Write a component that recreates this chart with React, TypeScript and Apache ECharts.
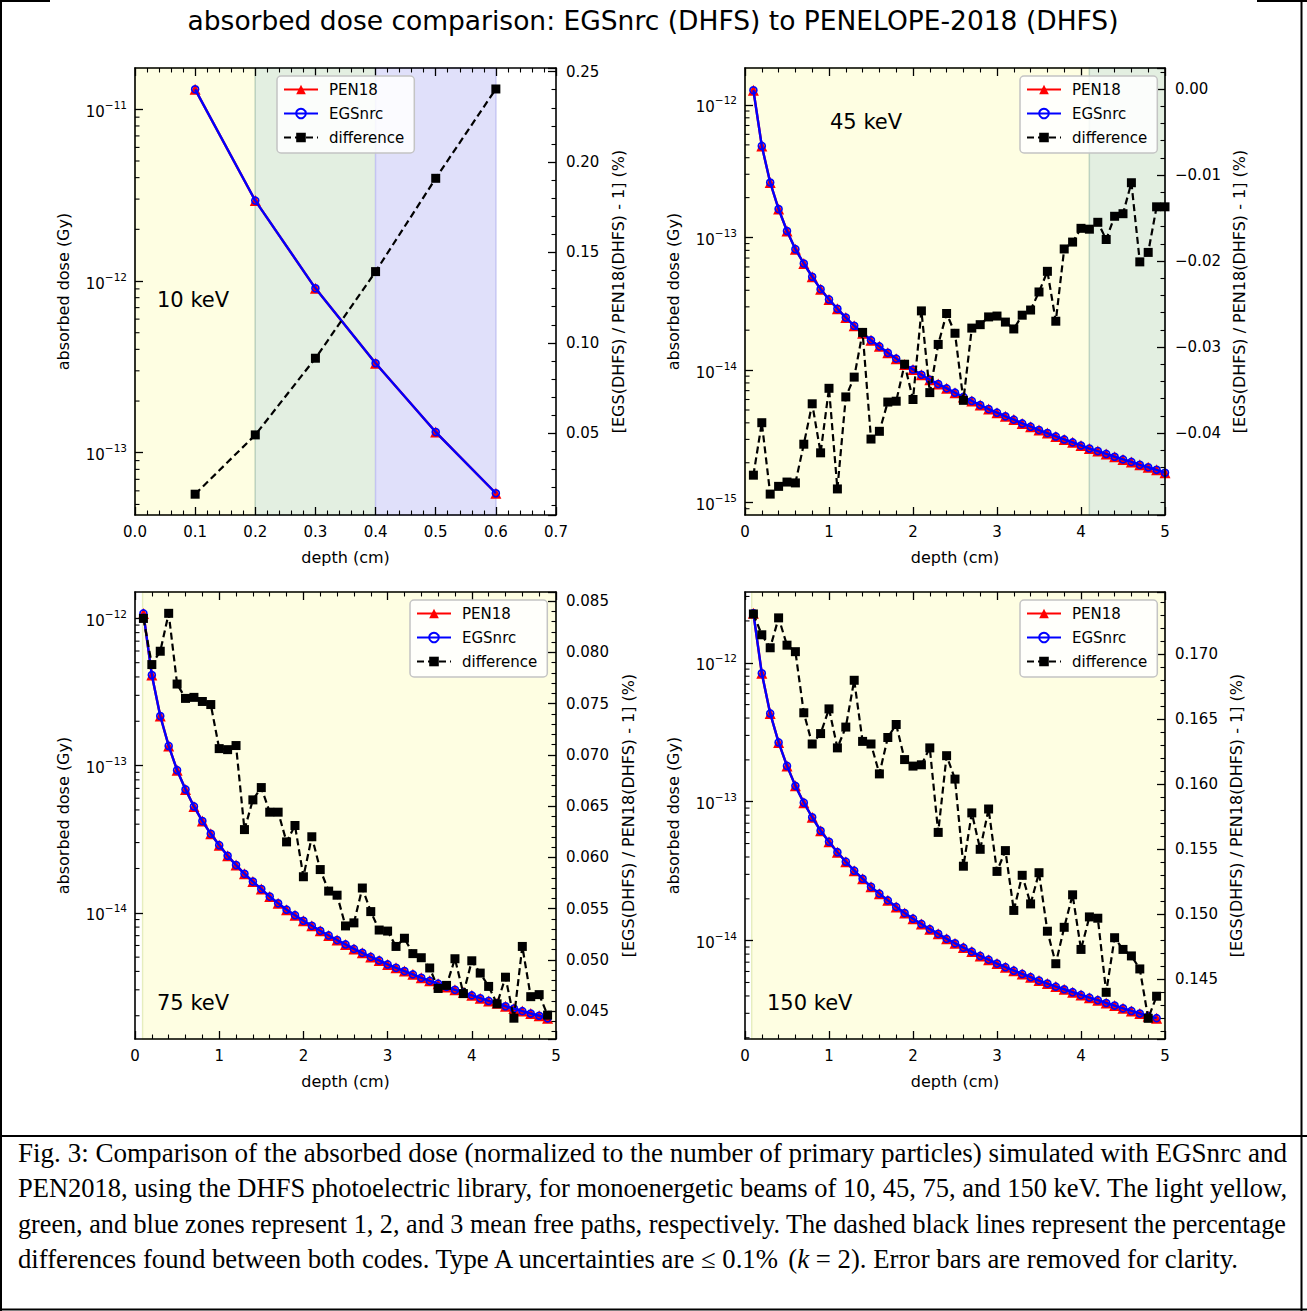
import React, { useEffect, useRef } from 'react';
import * as echarts from 'echarts';

// ---------------- data ----------------
const seriesNames = ['PEN18', 'EGSnrc', 'difference'];
const energyLabels = ['10 keV', '45 keV', '75 keV', '150 keV'];

const depth10 = [0.1, 0.2, 0.3, 0.4, 0.5, 0.6];
const pen10 = [1.307e-11, 2.94e-12, 9.07e-13, 3.32e-13, 1.32e-13, 5.81e-14];
const egs10 = [1.307e-11, 2.94e-12, 9.07e-13, 3.32e-13, 1.32e-13, 5.81e-14];
const diff10 = [0.0163, 0.0491, 0.0915, 0.1394, 0.191, 0.2404];

const depth45 = [0.1, 0.2, 0.3, 0.4, 0.5, 0.6, 0.7, 0.8, 0.9, 1.0, 1.1, 1.2, 1.3, 1.4, 1.5, 1.6, 1.7, 1.8, 1.9, 2.0,
  2.1, 2.2, 2.3, 2.4, 2.5, 2.6, 2.7, 2.8, 2.9, 3.0, 3.1, 3.2, 3.3, 3.4, 3.5, 3.6, 3.7, 3.8, 3.9, 4.0,
  4.1, 4.2, 4.3, 4.4, 4.5, 4.6, 4.7, 4.8, 4.9, 5.0];
const pen45 = [1.29e-12, 4.91e-13, 2.6e-13, 1.64e-13, 1.12e-13, 8.17e-14, 6.37e-14, 5.06e-14, 4.08e-14, 3.41e-14,
  2.9e-14, 2.49e-14, 2.16e-14, 1.9e-14, 1.68e-14, 1.51e-14, 1.35e-14, 1.22e-14, 1.1e-14, 1.01e-14,
  9.22e-15, 8.45e-15, 7.85e-15, 7.28e-15, 6.75e-15, 6.27e-15, 5.85e-15, 5.45e-15, 5.08e-15, 4.77e-15,
  4.48e-15, 4.23e-15, 3.96e-15, 3.74e-15, 3.53e-15, 3.35e-15, 3.16e-15, 3.0e-15, 2.85e-15, 2.7e-15,
  2.56e-15, 2.45e-15, 2.33e-15, 2.22e-15, 2.12e-15, 2.03e-15, 1.93e-15, 1.85e-15, 1.77e-15, 1.68e-15];
const egs45 = [1.29e-12, 4.91e-13, 2.6e-13, 1.64e-13, 1.12e-13, 8.17e-14, 6.37e-14, 5.06e-14, 4.08e-14, 3.41e-14,
  2.9e-14, 2.49e-14, 2.16e-14, 1.9e-14, 1.68e-14, 1.51e-14, 1.35e-14, 1.22e-14, 1.1e-14, 1.01e-14,
  9.22e-15, 8.45e-15, 7.85e-15, 7.28e-15, 6.75e-15, 6.27e-15, 5.85e-15, 5.45e-15, 5.08e-15, 4.77e-15,
  4.48e-15, 4.23e-15, 3.96e-15, 3.74e-15, 3.53e-15, 3.35e-15, 3.16e-15, 3.0e-15, 2.85e-15, 2.7e-15,
  2.56e-15, 2.45e-15, 2.33e-15, 2.22e-15, 2.12e-15, 2.03e-15, 1.93e-15, 1.85e-15, 1.77e-15, 1.68e-15];
const diff45 = [-0.0449, -0.0388, -0.0471, -0.0462, -0.0457, -0.0458, -0.0413, -0.0366, -0.0423, -0.0348,
  -0.0465, -0.0358, -0.0335, -0.0283, -0.0407, -0.0398, -0.0364, -0.0363, -0.032, -0.0361,
  -0.0258, -0.0353, -0.0297, -0.0261, -0.0284, -0.0362, -0.0278, -0.0274, -0.0265, -0.0264,
  -0.0271, -0.0279, -0.0263, -0.0257, -0.0236, -0.0212, -0.027, -0.0186, -0.0178, -0.0162,
  -0.0163, -0.0155, -0.0175, -0.0148, -0.0145, -0.0109, -0.0201, -0.019, -0.0137, -0.0137];

const depth75 = [0.1, 0.2, 0.3, 0.4, 0.5, 0.6, 0.7, 0.8, 0.9, 1.0, 1.1, 1.2, 1.3, 1.4, 1.5, 1.6, 1.7, 1.8, 1.9, 2.0,
  2.1, 2.2, 2.3, 2.4, 2.5, 2.6, 2.7, 2.8, 2.9, 3.0, 3.1, 3.2, 3.3, 3.4, 3.5, 3.6, 3.7, 3.8, 3.9, 4.0,
  4.1, 4.2, 4.3, 4.4, 4.5, 4.6, 4.7, 4.8, 4.9];
const pen75 = [1.08e-12, 4.12e-13, 2.17e-13, 1.36e-13, 9.31e-14, 6.89e-14, 5.28e-14, 4.2e-14, 3.44e-14, 2.88e-14,
  2.44e-14, 2.11e-14, 1.84e-14, 1.63e-14, 1.45e-14, 1.29e-14, 1.16e-14, 1.05e-14, 9.64e-15, 8.83e-15,
  8.16e-15, 7.55e-15, 7.02e-15, 6.53e-15, 6.1e-15, 5.69e-15, 5.35e-15, 5.02e-15, 4.75e-15, 4.46e-15,
  4.23e-15, 4.02e-15, 3.82e-15, 3.62e-15, 3.45e-15, 3.3e-15, 3.14e-15, 3.0e-15, 2.88e-15, 2.75e-15,
  2.63e-15, 2.52e-15, 2.43e-15, 2.32e-15, 2.24e-15, 2.15e-15, 2.07e-15, 2.0e-15, 1.92e-15];
const egs75 = [1.08e-12, 4.12e-13, 2.17e-13, 1.36e-13, 9.31e-14, 6.89e-14, 5.28e-14, 4.2e-14, 3.44e-14, 2.88e-14,
  2.44e-14, 2.11e-14, 1.84e-14, 1.63e-14, 1.45e-14, 1.29e-14, 1.16e-14, 1.05e-14, 9.64e-15, 8.83e-15,
  8.16e-15, 7.55e-15, 7.02e-15, 6.53e-15, 6.1e-15, 5.69e-15, 5.35e-15, 5.02e-15, 4.75e-15, 4.46e-15,
  4.23e-15, 4.02e-15, 3.82e-15, 3.62e-15, 3.45e-15, 3.3e-15, 3.14e-15, 3.0e-15, 2.88e-15, 2.75e-15,
  2.63e-15, 2.52e-15, 2.43e-15, 2.32e-15, 2.24e-15, 2.15e-15, 2.07e-15, 2.0e-15, 1.92e-15];
const diff75 = [0.0833, 0.0788, 0.0801, 0.0838, 0.0769, 0.0755, 0.0756, 0.0752, 0.0749, 0.0706,
  0.0705, 0.0709, 0.0627, 0.0656, 0.0668, 0.0644, 0.0644, 0.0615, 0.0631, 0.0581,
  0.062, 0.0588, 0.0567, 0.0563, 0.0533, 0.0536, 0.057, 0.0547, 0.0529, 0.0528,
  0.0513, 0.0521, 0.0506, 0.0502, 0.0492, 0.0472, 0.0475, 0.0501, 0.0467, 0.0499,
  0.0487, 0.0474, 0.0457, 0.0483, 0.0443, 0.0513, 0.0464, 0.0466, 0.0446];

const depth150 = [0.1, 0.2, 0.3, 0.4, 0.5, 0.6, 0.7, 0.8, 0.9, 1.0, 1.1, 1.2, 1.3, 1.4, 1.5, 1.6, 1.7, 1.8, 1.9, 2.0,
  2.1, 2.2, 2.3, 2.4, 2.5, 2.6, 2.7, 2.8, 2.9, 3.0, 3.1, 3.2, 3.3, 3.4, 3.5, 3.6, 3.7, 3.8, 3.9, 4.0,
  4.1, 4.2, 4.3, 4.4, 4.5, 4.6, 4.7, 4.8, 4.9];
const pen150 = [2.27e-12, 8.39e-13, 4.32e-13, 2.67e-13, 1.81e-13, 1.3e-13, 9.84e-14, 7.73e-14, 6.18e-14, 5.15e-14,
  4.33e-14, 3.7e-14, 3.19e-14, 2.79e-14, 2.44e-14, 2.18e-14, 1.95e-14, 1.75e-14, 1.58e-14, 1.44e-14,
  1.32e-14, 1.21e-14, 1.12e-14, 1.03e-14, 9.57e-15, 8.91e-15, 8.34e-15, 7.76e-15, 7.3e-15, 6.84e-15,
  6.44e-15, 6.08e-15, 5.76e-15, 5.46e-15, 5.16e-15, 4.91e-15, 4.67e-15, 4.47e-15, 4.26e-15, 4.07e-15,
  3.89e-15, 3.73e-15, 3.56e-15, 3.41e-15, 3.26e-15, 3.12e-15, 2.99e-15, 2.86e-15, 2.77e-15];
const egs150 = [2.27e-12, 8.39e-13, 4.32e-13, 2.67e-13, 1.81e-13, 1.3e-13, 9.84e-14, 7.73e-14, 6.18e-14, 5.15e-14,
  4.33e-14, 3.7e-14, 3.19e-14, 2.79e-14, 2.44e-14, 2.18e-14, 1.95e-14, 1.75e-14, 1.58e-14, 1.44e-14,
  1.32e-14, 1.21e-14, 1.12e-14, 1.03e-14, 9.57e-15, 8.91e-15, 8.34e-15, 7.76e-15, 7.3e-15, 6.84e-15,
  6.44e-15, 6.08e-15, 5.76e-15, 5.46e-15, 5.16e-15, 4.91e-15, 4.67e-15, 4.47e-15, 4.26e-15, 4.07e-15,
  3.89e-15, 3.73e-15, 3.56e-15, 3.41e-15, 3.26e-15, 3.12e-15, 2.99e-15, 2.86e-15, 2.77e-15];
const diff150 = [0.1731, 0.1715, 0.1705, 0.1728, 0.1707, 0.1702, 0.1655, 0.1631, 0.1639, 0.1658,
  0.1628, 0.1644, 0.168, 0.1633, 0.1631, 0.1608, 0.1636, 0.1646, 0.1619, 0.1614,
  0.1615, 0.1628, 0.1563, 0.1622, 0.1604, 0.1537, 0.1578, 0.155, 0.1581, 0.1533,
  0.1549, 0.1503, 0.153, 0.1508, 0.1532, 0.1487, 0.1462, 0.149, 0.1515, 0.1473,
  0.1498, 0.1497, 0.144, 0.1482, 0.1473, 0.1468, 0.1458, 0.142, 0.1437];

// mean-free-path zones [start, end] (index 0 = 1 mfp, 1 = 2 mfp, 2 = 3 mfp)
const zones10 = [[0, 0.2], [0.2, 0.4], [0.4, 0.6]];
const zones45 = [[0, 4.1], [4.1, 5]];
const zones75 = [[0.09, 5]];
const zones150 = [[0.08, 5]];

// axis extents
const xRange10 = [0, 0.7];
const xRangeDeep = [0, 5];
const doseRange10 = [4.34e-14, 1.74e-11];
const doseRange45 = [8.07e-16, 1.9e-12];
const doseRange75 = [1.39e-15, 1.51e-12];
const doseRange150 = [1.96e-15, 3.23e-12];
const diffRange10 = [0.0048, 0.252];
const diffRange45 = [-0.04953, 0.00244];
const diffRange75 = [0.04227, 0.08588];
const diffRange150 = [0.14041, 0.17479];

const titleText = 'absorbed dose comparison: EGSnrc (DHFS) to PENELOPE-2018 (DHFS)';
const xName = 'depth (cm)';
const yLeftName = 'absorbed dose (Gy)';
const yRightName = '[EGS(DHFS) / PEN18(DHFS) - 1] (%)';
const captionLines = [
  'Fig. 3: Comparison of the absorbed dose (normalized to the number of primary particles) simulated with EGSnrc and',
  'PEN2018, using the DHFS photoelectric library, for monoenergetic beams of 10, 45, 75, and 150 keV. The light yellow,',
  'green, and blue zones represent 1, 2, and 3 mean free paths, respectively. The dashed black lines represent the percentage',
  'differences found between both codes. Type A uncertainties are ≤ 0.1% {n|(}{i|k} = 2). Error bars are removed for clarity.',
];

// ---------------- layout / style ----------------
const FONT = 'DejaVu Sans';
const SERIF = 'Liberation Serif';
const zoneFill = ['#fefee2', '#e3efe1', '#e0e0fa'];
const zoneEdge = ['#e6eebf', '#bcd2c2', '#c4c4f2'];

const panels = [
  { depth: depth10, pen: pen10, egs: egs10, diff: diff10, zones: zones10, xr: xRange10, xInt: 0.1, xDec: 1,
    yl: doseRange10, yr: diffRange10, rInt: 0.05, rDec: 2,
    box: [135, 68, 421, 447], legend: [277, 76], label: [157, 300], lGap: 64, rGap: 54 },
  { depth: depth45, pen: pen45, egs: egs45, diff: diff45, zones: zones45, xr: xRangeDeep, xInt: 1, xDec: 0,
    yl: doseRange45, yr: diffRange45, rInt: 0.01, rDec: 2,
    box: [745, 68, 420, 447], legend: [1020, 76], label: [830, 122], lGap: 64, rGap: 66 },
  { depth: depth75, pen: pen75, egs: egs75, diff: diff75, zones: zones75, xr: xRangeDeep, xInt: 1, xDec: 0,
    yl: doseRange75, yr: diffRange75, rInt: 0.005, rDec: 3,
    box: [135, 592, 421, 447], legend: [410, 600], label: [157, 1003], lGap: 64, rGap: 64 },
  { depth: depth150, pen: pen150, egs: egs150, diff: diff150, zones: zones150, xr: xRangeDeep, xInt: 1, xDec: 0,
    yl: doseRange150, yr: diffRange150, rInt: 0.005, rDec: 3,
    box: [745, 592, 420, 447], legend: [1020, 600], label: [767, 1003], lGap: 64, rGap: 63 },
];

function logMinorTicks(min: number, max: number) {
  const out: number[] = [];
  for (let e = Math.floor(Math.log10(min)); e <= Math.ceil(Math.log10(max)); e++) {
    for (let m = 2; m <= 9; m++) {
      const v = m * Math.pow(10, e);
      if (v > min && v < max) out.push(v);
    }
  }
  return out;
}

function measure(text: string, font: string) {
  const ctx = document.createElement('canvas').getContext('2d')!;
  ctx.font = font;
  return ctx.measureText(text).width;
}

const fmtSigned = (v: number, d: number) => {
  const s = Math.abs(v).toFixed(d);
  return (v < 0 && Number(s) !== 0 ? '\u2212' : '') + s;
};

function buildOption() {
  const grid: any[] = [];
  const xAxis: any[] = [];
  const yAxis: any[] = [];
  const series: any[] = [];
  const legend: any[] = [];
  const graphic: any[] = [];

  const spine = { show: true, onZero: false, lineStyle: { color: '#000', width: 1.6 } };
  const majorTick = { show: true, inside: true, length: 8, lineStyle: { color: '#000', width: 1.3 } };
  const minorTick = { show: true, splitNumber: 5, length: 4.5, lineStyle: { color: '#000', width: 1.1 } };
  const nameStyle = { fontFamily: FONT, fontSize: 16, color: '#000' };

  panels.forEach((p, i) => {
    grid.push({ left: p.box[0], top: p.box[1], width: p.box[2], height: p.box[3], show: false });
    const xb = xAxis.length;
    const xCommon = {
      type: 'value', gridIndex: i, min: p.xr[0], max: p.xr[1], interval: p.xInt, z: 10,
      axisLine: spine, axisTick: majorTick, minorTick, splitLine: { show: false }, minorSplitLine: { show: false },
    };
    xAxis.push({
      ...xCommon, position: 'bottom',
      axisLabel: { fontFamily: FONT, fontSize: 15, color: '#000', margin: 9, formatter: (v: number) => v.toFixed(p.xDec) },
      name: xName, nameLocation: 'middle', nameGap: 34, nameTextStyle: nameStyle,
    });
    xAxis.push({ ...xCommon, position: 'top', axisLabel: { show: false } });

    const yl = yAxis.length;
    yAxis.push({
      type: 'log', logBase: 10, gridIndex: i, position: 'left', min: p.yl[0], max: p.yl[1], z: 10,
      axisLine: spine, axisTick: majorTick, minorTick: { show: false }, splitLine: { show: false },
      axisLabel: {
        showMinLabel: false, showMaxLabel: false, margin: 8, color: '#000',
        formatter: (v: number) => `{b|10}{s|\u2212${Math.abs(Math.round(Math.log10(v)))}}`,
        rich: {
          b: { fontFamily: FONT, fontSize: 15, color: '#000', padding: [5, 0, 0, 0] },
          s: { fontFamily: FONT, fontSize: 10.5, color: '#000', verticalAlign: 'top', lineHeight: 12 },
        },
      },
      name: yLeftName, nameLocation: 'middle', nameGap: p.lGap, nameRotate: 90, nameTextStyle: nameStyle,
    });
    const yr = yAxis.length;
    yAxis.push({
      type: 'value', gridIndex: i, position: 'right', min: p.yr[0], max: p.yr[1],
      minInterval: p.rInt, maxInterval: p.rInt, z: 10,
      axisLine: spine, axisTick: majorTick, minorTick, splitLine: { show: false }, minorSplitLine: { show: false },
      axisLabel: {
        showMinLabel: false, showMaxLabel: false, margin: 10, fontFamily: FONT, fontSize: 15, color: '#000',
        formatter: (v: number) => fmtSigned(v, p.rDec),
      },
      name: yRightName, nameLocation: 'middle', nameGap: p.rGap, nameRotate: 90, nameTextStyle: nameStyle,
    });

    // zones
    series.push({
      type: 'line', name: 'zones' + i, xAxisIndex: xb, yAxisIndex: yl, data: [], silent: true, z: 1,
      markArea: {
        silent: true, z: 1,
        data: p.zones.map((zz, k) => [
          { xAxis: zz[0], itemStyle: { color: zoneFill[k], borderColor: zoneEdge[k], borderWidth: 1.4 } },
          { xAxis: zz[1] },
        ]),
      },
    });
    series.push({
      type: 'line', name: seriesNames[0], xAxisIndex: xb, yAxisIndex: yl, z: 3,
      data: p.depth.map((d, k) => [d, p.pen[k]]),
      symbol: 'triangle', symbolSize: 11, itemStyle: { color: '#ff0000' },
      lineStyle: { color: '#ff0000', width: 2.4 },
    });
    series.push({
      type: 'line', name: seriesNames[1], xAxisIndex: xb, yAxisIndex: yl, z: 4,
      data: p.depth.map((d, k) => [d, p.egs[k]]),
      symbol: 'circle', symbolSize: 7,
      itemStyle: { color: 'rgba(0,0,0,0)', borderColor: '#0000ff', borderWidth: 1.6 },
      lineStyle: { color: '#0000ff', width: 2.4 },
    });
    series.push({
      type: 'line', name: seriesNames[2], xAxisIndex: xb, yAxisIndex: yr, z: 5,
      data: p.depth.map((d, k) => [d, p.diff[k]]),
      symbol: 'rect', symbolSize: 9, itemStyle: { color: '#000' },
      lineStyle: { color: '#000', width: 2.2, type: [7, 4] },
    });
    // log-axis minor ticks, placed through the axis scale
    const x0 = p.xr[0];
    series.push({
      type: 'custom', name: 'minor' + i, xAxisIndex: xb, yAxisIndex: yl, silent: true, z: 12, clip: false,
      data: logMinorTicks(p.yl[0], p.yl[1]).map((v) => [x0, v]),
      encode: { x: 0, y: 1 },
      renderItem: (_params: any, api: any) => {
        const pt = api.coord([api.value(0), api.value(1)]);
        return {
          type: 'line',
          shape: { x1: pt[0], y1: pt[1], x2: pt[0] + 4.5, y2: pt[1] },
          style: { stroke: '#000', lineWidth: 1.1 },
        };
      },
    });

    legend.push({
      data: seriesNames, orient: 'vertical', left: p.legend[0], top: p.legend[1],
      itemWidth: 34, itemHeight: 12, itemGap: 9, padding: [6, 10, 8, 6],
      backgroundColor: 'rgba(255,255,255,0.85)', borderColor: '#c4c4c4', borderWidth: 1.5, borderRadius: 4,
      textStyle: { fontFamily: FONT, fontSize: 15, color: '#000', padding: [0, 0, 0, 6] },
      selectedMode: false, z: 20,
    });

    graphic.push({
      type: 'text', x: p.label[0], y: p.label[1], z: 30,
      style: { text: energyLabels[i], fill: '#000', fontFamily: FONT, fontSize: 21,
        align: 'left', verticalAlign: 'middle', textAlign: 'left', textVerticalAlign: 'middle' },
    });
  });

  // title
  graphic.push({
    type: 'text', x: 653, y: 20, z: 30,
    style: { text: titleText, fill: '#000', fontFamily: FONT, fontSize: 26.5,
      align: 'center', verticalAlign: 'middle', textAlign: 'center', textVerticalAlign: 'middle' },
  });

  // caption
  const capSize = 26.5;
  const capFont = `${capSize}px "${SERIF}"`;
  const capY = [1153, 1188, 1224, 1259];
  const capW = [1269, 1269, 1269, 1222];
  captionLines.forEach((line, k) => {
    const plain = line.replace('{n|(}', '(').replace('{i|k}', 'k');
    const w = measure(plain, capFont);
    const sx = w > 0 ? capW[k] / w : 1;
    graphic.push({
      type: 'text', x: 18, y: capY[k], scaleX: sx, z: 30,
      style: {
        text: line, fill: '#000', fontFamily: SERIF, fontSize: capSize,
        align: 'left', verticalAlign: 'middle', textAlign: 'left', textVerticalAlign: 'middle',
        rich: {
          n: { fontFamily: SERIF, fontSize: capSize, fill: '#000' },
          i: { fontFamily: SERIF, fontSize: capSize, fontStyle: 'italic', fill: '#000' },
        },
      },
    });
  });

  // frame lines
  const frame = [
    [1, 0, 1, 1311], [0, 1, 50, 1], [1257, 1, 1307, 1], [1301.5, 0, 1301.5, 1311],
    [0, 1136, 1307, 1136], [0, 1309.5, 1307, 1309.5],
  ];
  frame.forEach((f) => {
    graphic.push({ type: 'line', z: 30, shape: { x1: f[0], y1: f[1], x2: f[2], y2: f[3] }, style: { stroke: '#000', lineWidth: 2 } });
  });

  return {
    animation: false,
    backgroundColor: '#ffffff',
    textStyle: { fontFamily: FONT },
    grid, xAxis, yAxis, series, legend, graphic,
  };
}

export default function App() {
  const ref = useRef<HTMLDivElement>(null);
  useEffect(() => {
    const chart = echarts.init(ref.current!, null, { renderer: 'svg', width: 1307, height: 1311 });
    chart.setOption(buildOption() as any);
    return () => chart.dispose();
  }, []);
  return (
    <div
      ref={ref}
      style={{ position: 'absolute', left: 0, top: 0, width: 1307, height: 1311, background: '#fff' }}
    />
  );
}
